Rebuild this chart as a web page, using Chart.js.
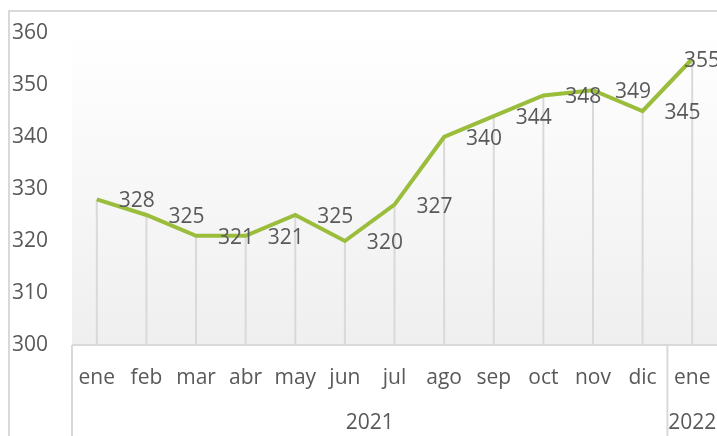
<!DOCTYPE html>
<html>
<head>
<meta charset="utf-8">
<script src="https://cdn.jsdelivr.net/npm/chart.js@4"></script>
<style>
  html, body { margin: 0; padding: 0; background: #fff; overflow: hidden; }
  #wrap { width: 717px; height: 436px; }
</style>
</head>
<body>
<div id="wrap"><canvas id="grafico"></canvas></div>
<script>
// datos
const meses = ['ene', 'feb', 'mar', 'abr', 'may', 'jun', 'jul', 'ago', 'sep', 'oct', 'nov', 'dic', 'ene'];
const valores = [328, 325, 321, 321, 325, 320, 327, 340, 344, 348, 349, 345, 355];
const anios = ['2021', '2022'];
const mesesPorAnio = [12, 1];
const ticksY = [300, 310, 320, 330, 340, 350, 360];

const gris = '#d9d9d9';
const texto = '#595959';
const fuente = 'Open Sans';
const tam = 21;

// marco, fondo del area, lineas de caida y etiquetas
const extras = {
  id: 'extras',
  beforeDraw(chart) {
    const { ctx, chartArea: a, scales } = chart;
    ctx.save();
    const g = ctx.createLinearGradient(0, a.top, 0, a.bottom);
    g.addColorStop(0, '#ffffff');
    g.addColorStop(1, '#efefef');
    ctx.fillStyle = g;
    ctx.fillRect(a.left, a.top, a.right - a.left, a.bottom - a.top);

    ctx.strokeStyle = gris;
    ctx.lineWidth = 2;
    ctx.beginPath();
    ctx.moveTo(9, chart.height + 2);
    ctx.lineTo(9, 11);
    ctx.lineTo(chart.width + 2, 11);
    ctx.stroke();

    // lineas de caida
    const y0 = scales.y.getPixelForValue(ticksY[0]);
    valores.forEach((v, i) => {
      const x = scales.x.getPixelForValue(i);
      ctx.beginPath();
      ctx.moveTo(x, scales.y.getPixelForValue(v));
      ctx.lineTo(x, y0);
      ctx.stroke();
    });
    ctx.restore();
  },
  afterDraw(chart) {
    const { ctx, chartArea: a, scales } = chart;
    const x = scales.x;
    ctx.save();
    // eje de categorias en dos niveles
    ctx.strokeStyle = gris;
    ctx.lineWidth = 2;
    ctx.beginPath();
    ctx.moveTo(a.left, a.bottom);
    ctx.lineTo(chart.width + 2, a.bottom);
    ctx.moveTo(a.left, a.bottom);
    ctx.lineTo(a.left, chart.height + 2);
    ctx.stroke();

    ctx.font = tam + 'px "' + fuente + '"';
    ctx.fillStyle = texto;
    ctx.textAlign = 'center';
    ctx.textBaseline = 'middle';
    const mitad = (x.getPixelForValue(1) - x.getPixelForValue(0)) / 2;
    let inicio = 0;
    anios.forEach((an, k) => {
      const fin = inicio + mesesPorAnio[k] - 1;
      const izq = x.getPixelForValue(inicio) - mitad;
      const der = x.getPixelForValue(fin) + mitad;
      if (k > 0) {
        ctx.beginPath();
        ctx.moveTo(izq, a.bottom);
        ctx.lineTo(izq, chart.height + 2);
        ctx.stroke();
      }
      ctx.fillText(an, (izq + der) / 2, 423);
      inicio = fin + 1;
    });

    // etiquetas de datos a la derecha
    const meta = chart.getDatasetMeta(0);
    meta.data.forEach((p, i) => {
      const t = String(valores[i]);
      const w = ctx.measureText(t).width;
      const cx = Math.min(p.x + 40, chart.width - w / 2 + 3);
      ctx.fillText(t, cx, p.y + 2);
    });
    ctx.restore();
  }
};

new Chart(document.getElementById('grafico'), {
  type: 'line',
  data: {
    labels: meses,
    datasets: [{
      data: valores,
      borderColor: '#9bbd3c',
      borderWidth: 4,
      pointRadius: 0,
      tension: 0,
      fill: false
    }]
  },
  options: {
    responsive: true,
    maintainAspectRatio: false,
    animation: false,
    layout: { padding: { left: 12, top: 33, right: 0, bottom: 0 } },
    plugins: {
      legend: { display: false },
      tooltip: { enabled: false }
    },
    scales: {
      x: {
        offset: true,
        grid: { display: false, drawTicks: false },
        border: { display: false },
        ticks: {
          color: texto,
          font: { family: fuente, size: tam },
          padding: 20,
          maxRotation: 0,
          autoSkip: false
        },
        afterFit(s) { s.height = 91; s.paddingLeft = 0; s.paddingRight = 0; }
      },
      y: {
        min: 300,
        max: 360,
        afterBuildTicks(s) { s.ticks = ticksY.map(v => ({ value: v })); },
        grid: { display: false, drawTicks: false },
        border: { display: false },
        ticks: {
          color: texto,
          font: { family: fuente, size: tam },
          crossAlign: 'far',
          padding: 0
        },
        afterFit(s) { s.width = 60; s.paddingTop = 0; s.paddingBottom = 0; }
      }
    }
  },
  plugins: [extras]
});
</script>
</body>
</html>
